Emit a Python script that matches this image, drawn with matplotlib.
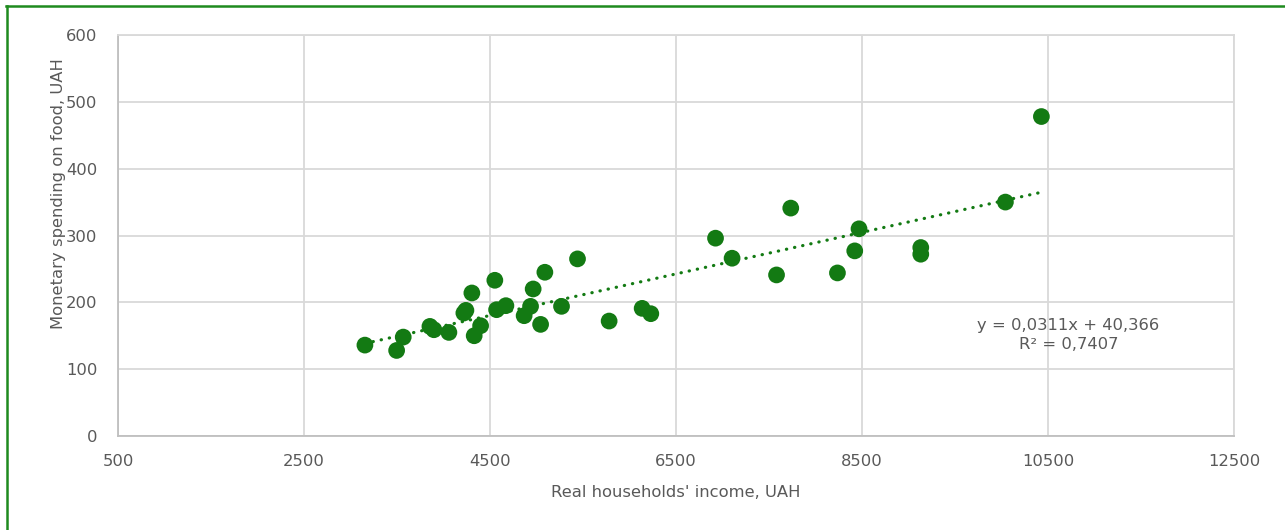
import matplotlib.pyplot as plt
from matplotlib.lines import Line2D
import numpy as np

# Income vs. food spending by observation
income = [3155, 3496, 3567, 3854, 3897, 4058, 4219, 4241, 4305, 4330,
          4399, 4552, 4571, 4671, 4867, 4936, 4964, 5044, 5090, 5269,
          5441, 5781, 6136, 6229, 6925, 7103, 7581, 7734, 8236, 8422,
          8468, 9132, 9132, 10042, 10429]
food = [136, 128, 148, 164, 159, 155, 184, 188, 214, 150,
        165, 233, 189, 195, 180, 194, 220, 167, 245, 194,
        265, 172, 191, 183, 296, 266, 241, 341, 244, 277,
        310, 272, 282, 350, 478]

# Linear trend as reported
slope = 0.0311
intercept = 40.366
r2_text = "0,7407"

xticks = [500, 2500, 4500, 6500, 8500, 10500, 12500]
yticks = [0, 100, 200, 300, 400, 500, 600]

green = '#137a13'
text_col = '#595959'
grid_col = '#d9d9d9'

plt.rcParams['font.family'] = ['DejaVu Sans']

fig = plt.figure(figsize=(12.85, 5.30), dpi=100)
ax = fig.add_axes([118 / 1285, 94 / 530, 1116 / 1285, 401 / 530])

ax.scatter(income, food, s=145, color=green, edgecolors='none', zorder=3)

xs = np.array([min(income), max(income)])
ax.plot(xs, slope * xs + intercept, color=green, lw=2.3,
        linestyle=(0, (0.1, 2.5)), dash_capstyle='round', zorder=2)

ax.set_xlim(500, 12500)
ax.set_ylim(0, 600)
ax.set_xticks(xticks)
ax.set_yticks(yticks)
ax.grid(True, color=grid_col, lw=1.3)
ax.set_axisbelow(True)
for side in ['top', 'right']:
    ax.spines[side].set_color(grid_col)
    ax.spines[side].set_linewidth(1.3)
for side in ['left', 'bottom']:
    ax.spines[side].set_color('#bfbfbf')
    ax.spines[side].set_linewidth(1.3)
ax.tick_params(length=0, labelsize=11.8, colors=text_col)
ax.tick_params(axis='y', pad=15)
ax.tick_params(axis='x', pad=13)

ax.set_xlabel("Real households' income, UAH", fontsize=11.8, color=text_col)
ax.set_ylabel("Monetary spending on food, UAH", fontsize=11.8, color=text_col)
ax.xaxis.set_label_coords(0.5, -0.122)
ax.yaxis.set_label_coords(-0.047, 0.605)

eq = "y = {:.4f}x + {:.3f}".format(slope, intercept).replace('.', ',')
ax.text(10720, 151, eq + "\nR² = " + r2_text, ha='center', va='center',
        multialignment='center', fontsize=11.8, color=text_col,
        linespacing=1.3)

# green frame around the chart
fig.add_artist(Line2D([6.5 / 1285, 6.5 / 1285], [0, 1 - 5.5 / 530],
                      transform=fig.transFigure, color='#1e8a1e', lw=1.8))
fig.add_artist(Line2D([6 / 1285, 1], [1 - 5.5 / 530, 1 - 5.5 / 530],
                      transform=fig.transFigure, color='#1e8a1e', lw=1.8))

fig.savefig('out.png', dpi=100)
